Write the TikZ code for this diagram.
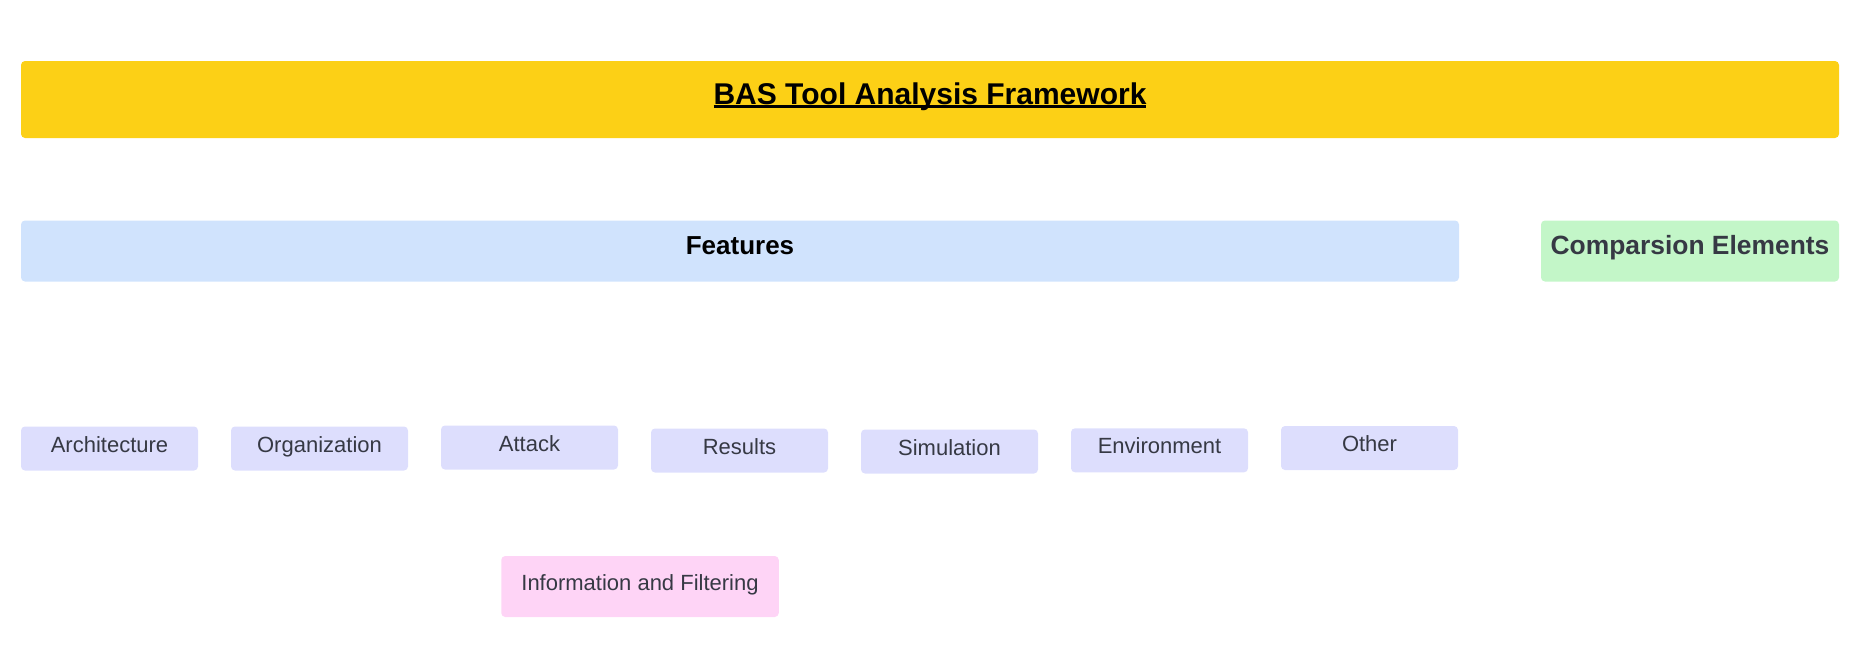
\documentclass[tikz,border=0pt]{standalone}
\usepackage{fontspec}
\setmainfont{Liberation Sans}
\usetikzlibrary{positioning}
\definecolor{titleyellow}{HTML}{FCD016}
\definecolor{featblue}{HTML}{D0E3FD}
\definecolor{compgreen}{HTML}{C3F6C8}
\definecolor{itemlav}{HTML}{DDDEFD}
\definecolor{infopink}{HTML}{FED4F6}
\definecolor{itemtext}{HTML}{363944}
\newcommand{\thickul}[1]{\setbox0\hbox{#1}\rlap{\vrule width\wd0 height -0.6pt depth 1.8pt}\box0}
\tikzset{box/.style = {rounded corners=2pt, inner sep=0pt,
                       text height=0.75em, text depth=0.4em},
         item/.style = {box, fill=itemlav, text=itemtext, font=\fontsize{11pt}{13pt}\selectfont,
                        minimum width=88.5pt, minimum height=22pt}}

\begin{document}
\begin{tikzpicture}[x=0.5pt, y=-0.5pt]
    \useasboundingbox (0, 0) rectangle (1870, 660);

    \node[box, fill=titleyellow, minimum width=909pt, minimum height=38.5pt, text depth=0.3em,
          font=\bfseries\fontsize{15pt}{18pt}\selectfont] (title) at (930, 99.5) {\thickul{BAS Tool Analysis Framework}};

    \node[box, fill=featblue, minimum width=719pt, minimum height=30.5pt, text depth=0.36em,
          font=\bfseries\fontsize{13pt}{16pt}\selectfont] (features) at (740, 251) {Features};
    \node[box, fill=compgreen, text=itemtext, minimum width=149pt, minimum height=30.5pt, text depth=0.36em,
          font=\bfseries\fontsize{13.2pt}{16pt}\selectfont] (compare) at (1690, 251) {Comparsion Elements};

    \node[item] (arch) at (109.5, 448.5) {Architecture};
    \node[item] (org) at (319.5, 448.5) {Organization};
    \node[item] (attack) at (529.5, 447.5) {Attack};
    \node[item] (results) at (739.5, 450.5) {Results};
    \node[item] (sim) at (949.5, 451.5) {Simulation};
    \node[item] (env) at (1159.5, 450.3) {Environment};
    \node[item] (other) at (1369.5, 448) {Other};

    \node[item, fill=infopink, minimum width=138.75pt, minimum height=30.5pt] (info) at (640, 586.5) {Information and Filtering};
  \end{tikzpicture}
\end{document}
